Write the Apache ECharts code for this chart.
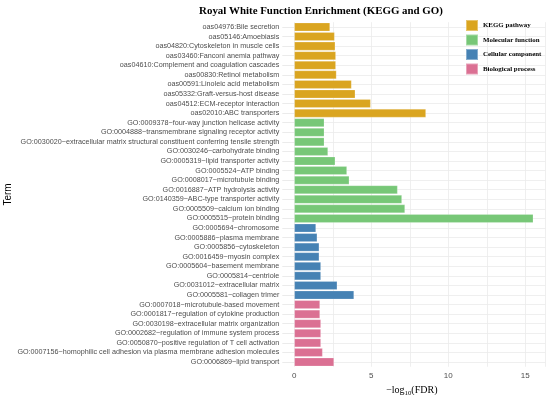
<!DOCTYPE html>
<html>
<head>
<meta charset="utf-8">
<script src="https://cdn.jsdelivr.net/npm/echarts@6/dist/echarts.min.js"></script>
<style>html,body{margin:0;padding:0;background:#fff;}#c{width:550px;height:395px;}</style>
</head>
<body>
<div id="c"></div>
<script>
const keggTerms = ["oas04976:Bile secretion","oas05146:Amoebiasis","oas04820:Cytoskeleton in muscle cells","oas03460:Fanconi anemia pathway","oas04610:Complement and coagulation cascades","oas00830:Retinol metabolism","oas00591:Linoleic acid metabolism","oas05332:Graft-versus-host disease","oas04512:ECM-receptor interaction","oas02010:ABC transporters"];
const keggValues = [2.32,2.62,2.66,2.70,2.70,2.74,3.72,3.96,4.96,8.55];
const mfTerms = ["GO:0009378~four-way junction helicase activity","GO:0004888~transmembrane signaling receptor activity","GO:0030020~extracellular matrix structural constituent conferring tensile strength","GO:0030246~carbohydrate binding","GO:0005319~lipid transporter activity","GO:0005524~ATP binding","GO:0008017~microtubule binding","GO:0016887~ATP hydrolysis activity","GO:0140359~ABC-type transporter activity","GO:0005509~calcium ion binding","GO:0005515~protein binding"];
const mfValues = [1.95,1.95,1.95,2.19,2.66,3.42,3.57,6.71,6.99,7.19,15.52];
const ccTerms = ["GO:0005694~chromosome","GO:0005886~plasma membrane","GO:0005856~cytoskeleton","GO:0016459~myosin complex","GO:0005604~basement membrane","GO:0005814~centriole","GO:0031012~extracellular matrix","GO:0005581~collagen trimer"];
const ccValues = [1.41,1.49,1.62,1.62,1.73,1.73,2.79,3.88];
const bpTerms = ["GO:0007018~microtubule-based movement","GO:0001817~regulation of cytokine production","GO:0030198~extracellular matrix organization","GO:0002682~regulation of immune system process","GO:0050870~positive regulation of T cell activation","GO:0007156~homophilic cell adhesion via plasma membrane adhesion molecules","GO:0006869~lipid transport"];
const bpValues = [1.67,1.67,1.73,1.73,1.73,1.84,2.58];
const groupNames = ["KEGG pathway","Molecular function","Cellular component","Biological process"];
const xTicks = [0,5,10,15];

const groups = [[keggTerms,keggValues],[mfTerms,mfValues],[ccTerms,ccValues],[bpTerms,bpValues]];
const colors = ['#DAA520','#77C777','#4682B4','#DB7093'];
const allTerms = [].concat(keggTerms, mfTerms, ccTerms, bpTerms);

const series = groups.map((g, gi) => {
  const data = allTerms.map(t => {
    const idx = g[0].indexOf(t);
    return idx >= 0 ? g[1][idx] : null;
  });
  return {
    name: groupNames[gi],
    type: 'bar',
    stack: 'all',
    data: data,
    barWidth: '90%',
    itemStyle: {color: colors[gi], borderColor: 'rgba(255,255,255,0.35)', borderWidth: 0.6},
    emphasis: {disabled: true},
    animation: false
  };
});

const chart = echarts.init(document.getElementById('c'), null, {renderer: 'canvas'});
chart.setOption({
  animation: false,
  backgroundColor: '#fff',
  title: {
    text: 'Royal White Function Enrichment (KEGG and GO)',
    left: 321, top: 6, textAlign: 'center', padding: 0,
    textStyle: {fontFamily: 'Liberation Serif', fontWeight: 'bold', fontSize: 10.9, color: '#000'}
  },
  legend: {
    data: groupNames,
    orient: 'vertical',
    left: 465, top: 19,
    padding: 0,
    icon: 'rect',
    itemWidth: 12, itemHeight: 11,
    itemGap: 1.5,
    textStyle: {fontFamily: 'Liberation Serif', fontWeight: 'bold', fontSize: 6.9, color: '#000', overflow: 'none'}
  },
  grid: {left: 294.3, right: 4.7, top: 22.2, bottom: 28.2, containLabel: false, outerBoundsMode: 'none'},
  xAxis: {
    type: 'value',
    min: 0, max: 16.3, interval: 2.5,
    axisLine: {show: false}, axisTick: {show: false},
    axisLabel: {
      color: '#4d4d4d', fontSize: 8, fontFamily: 'Liberation Sans', margin: 5,
      formatter: v => (xTicks.indexOf(v) >= 0 ? String(v) : '')
    },
    splitLine: {show: true, lineStyle: {color: '#ebebeb', width: 0.8}},
    name: '−log{s|10}(FDR)',
    nameLocation: 'middle',
    nameGap: 17,
    nameTextStyle: {
      fontFamily: 'Liberation Serif', fontSize: 10, color: '#000', padding: [0, 16, 0, 0],
      rich: {s: {fontFamily: 'Liberation Serif', fontSize: 6.8, verticalAlign: 'bottom', padding: [6,0,0,0]}}
    }
  },
  yAxis: {
    type: 'category',
    data: allTerms,
    inverse: true,
    axisLine: {show: false},
    axisTick: {show: true, alignWithLabel: true, length: 12, lineStyle: {color: '#e6e6e6', width: 0.8}},
    axisLabel: {color: '#4d4d4d', fontSize: 7.2, fontFamily: 'Liberation Sans', margin: 15, interval: 0},
    splitLine: {show: true, alignWithLabel: true, lineStyle: {color: '#ebebeb', width: 0.8}},
    name: 'Term',
    nameLocation: 'middle',
    nameRotate: 90,
    nameGap: 280,
    nameTextStyle: {fontFamily: 'Liberation Sans', fontSize: 10, color: '#000'}
  },
  series: series
});
</script>
</body>
</html>
